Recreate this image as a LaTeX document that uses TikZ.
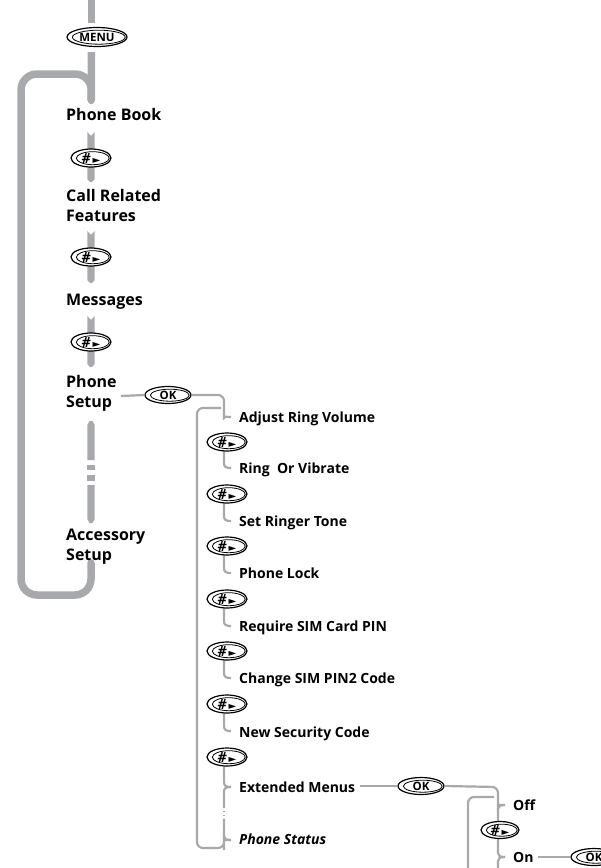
\documentclass[tikz,border=0pt]{standalone}
\usepackage{fontspec}
\setmainfont{Open Sans}
\newfontfamily\symfont{DejaVu Sans}
\usetikzlibrary{shapes.geometric,calc}
\definecolor{barg}{HTML}{A7A9AC}
\tikzset{
  gbar/.style={fill=barg,draw=none},
  loopline/.style={draw=barg,line width=7.5pt,rounded corners=16pt,line cap=round},
  thinline/.style={draw=barg,line width=2.2pt},
  mainlbl/.style={anchor=base west,font=\bfseries\fontsize{16}{20}\selectfont,inner sep=0pt,align=left},
  sublbl/.style={anchor=base west,font=\bfseries\fontsize{14}{16}\selectfont,inner sep=0pt},
  keybox/.style={ellipse,draw=black,line width=1.2pt,fill=white,inner sep=0pt,font=\bfseries\fontsize{11.5}{11.5}\selectfont},
}
\newcommand{\mkkey}[6]{% name, x, y, width, height, text
  \node[keybox,minimum width=#4pt,minimum height=#5pt] (#1) at (#2,#3) {#6};
  \draw[line width=0.8pt] (#2+1.8,#3+0.2) ellipse [x radius={(#4/2-3.6)*1pt}, y radius={(#5/2-2.5)*1pt}];
}
\newcommand{\hashkey}{{\fontsize{14}{14}\selectfont\textit{\#}}\,{\symfont\fontsize{10}{10}\selectfont ►}}
% bar with notched top and pointed bottom: x, ytop, ybottom
\newcommand{\gbarseg}[3]{%
  \fill[gbar] (#1-3.7,#2) -- (#1,#2+4) -- (#1+3.7,#2) -- (#1+3.7,#3-3) -- (#1+1,#3) -- (#1-1,#3) -- (#1-3.7,#3-3) -- cycle;%
}
\begin{document}
\begin{tikzpicture}[x=1pt,y=-1pt]
\useasboundingbox (0,0) rectangle (601,868);

% ---------- left column ----------
\fill[gbar] (88,0) rectangle (94.5,23);
\draw[loopline] (91.2,100) -- (91.2,74) -- (21,74) -- (21,595) -- (91,595) -- (91,563);
\fill[gbar] (87.5,52) -- (95,52) -- (95,100) -- (92.5,104) -- (90,104) -- (87.5,100) -- cycle;
\mkkey{menu}{97}{37}{60}{19}{MENU}

\node[mainlbl] (pb) at (66,120.5) {Phone Book};
\gbarseg{91}{132}{182}
\mkkey{k1}{91}{158}{40}{18}{\hashkey}

\node[mainlbl] (cr) at (66,221.5) {Call Related\\Features};
\gbarseg{91}{231}{283}
\mkkey{k2}{91}{257}{40}{18}{\hashkey}

\node[mainlbl] (ms) at (66,305.5) {Messages};
\gbarseg{91}{316}{367}
\mkkey{k3}{91}{342}{40}{18}{\hashkey}

\node[mainlbl] (ps) at (66,407.5) {Phone\\Setup};

% long bar with breaks
\fill[gbar] (87.3,425) -- (89.5,421) -- (92.5,421) -- (94.7,425) -- (94.7,460) -- (87.3,460) -- cycle;
\fill[gbar] (87.3,465) rectangle (94.7,470);
\fill[gbar] (87.3,475) rectangle (94.7,481);
\fill[gbar] (87.3,485) -- (94.7,485) -- (94.7,519) -- (92.5,523) -- (89.5,523) -- (87.3,519) -- cycle;

\node[mainlbl] (acc) at (66,560.5) {Accessory\\Setup};

% ---------- Phone Setup -> OK ----------
\mkkey{ok1}{168}{395}{46}{17}{OK}
\draw[thinline] (121,396) -- (ok1.west);
\draw[thinline,rounded corners=6pt] (ok1.east) -- (224,395) -- (224,412) .. controls (224,416) and (226,417) .. (231,417);
\draw[thinline,rounded corners=6pt] (221,408) -- (197,408) -- (197,848) -- (224,848) -- (224,844) .. controls (224,841) and (226,840) .. (231,840);

% ---------- middle column ----------
\node[sublbl] (i1) at (239,422) {Adjust Ring Volume};
\node[sublbl] (i2) at (239,473) {Ring\ \ Or Vibrate};
\node[sublbl] (i3) at (239,526) {Set Ringer Tone};
\node[sublbl] (i4) at (239,578) {Phone Lock};
\node[sublbl] (i5) at (239,631) {Require SIM Card PIN};
\node[sublbl] (i6) at (239,683) {Change SIM PIN2 Code};
\node[sublbl] (i7) at (239,737) {New Security Code};
\node[sublbl] (i8) at (239,792) {Extended Menus};
\node[sublbl,font=\bfseries\itshape\fontsize{14}{16}\selectfont] (i9) at (239,844) {Phone Status};

\foreach \ky/\iy [count=\n] in {442/468,494/521,546/573,599/626,651/678,704/731,757/787}{
  \draw[thinline] (224,\ky) -- (224,\iy-5) .. controls (224,\iy-1) and (226,\iy) .. (231,\iy);
  \mkkey{mk\n}{227}{\ky}{40}{18}{\hashkey}
}
% Extended Menus continues to Phone Status
\draw[thinline] (231,787) .. controls (226,787) and (224,788) .. (224,792) -- (224,808);
\draw[thinline] (224,810.5) -- (224,812);
\draw[thinline] (224,814.5) -- (224,816);
\draw[thinline] (224,818.5) -- (224,836) .. controls (224,839) and (226,840) .. (231,840);

% ---------- Extended Menus -> OK ----------
\mkkey{ok2}{421}{786}{46}{17}{OK}
\draw[thinline] ([xshift=5pt]i8.east |- ok2.west) -- (ok2.west);
\draw[thinline,rounded corners=6pt] (ok2.east) -- (498,787) -- (498,801) .. controls (498,804) and (500,805) .. (505,805);
\draw[thinline] (505,805) .. controls (500,805) and (498,806) .. (498,809) -- (498,824);
\draw[thinline] (498,836) -- (498,853) .. controls (498,856) and (500,857) .. (505,857);
\draw[thinline] (505,857) .. controls (500,857) and (498,858) .. (498,861) -- (498,875);
\draw[thinline,rounded corners=6pt] (494,797) -- (468,797) -- (468,875);
\mkkey{k4}{500}{830}{38}{17}{\hashkey}
\node[sublbl] (off) at (513,810) {Off};
\node[sublbl] (on) at (513,862) {On};
\mkkey{ok3}{594}{857}{46}{17}{OK}
\draw[thinline] ([xshift=4pt]on.east |- ok3.west) -- (ok3.west);
\end{tikzpicture}
\end{document}
